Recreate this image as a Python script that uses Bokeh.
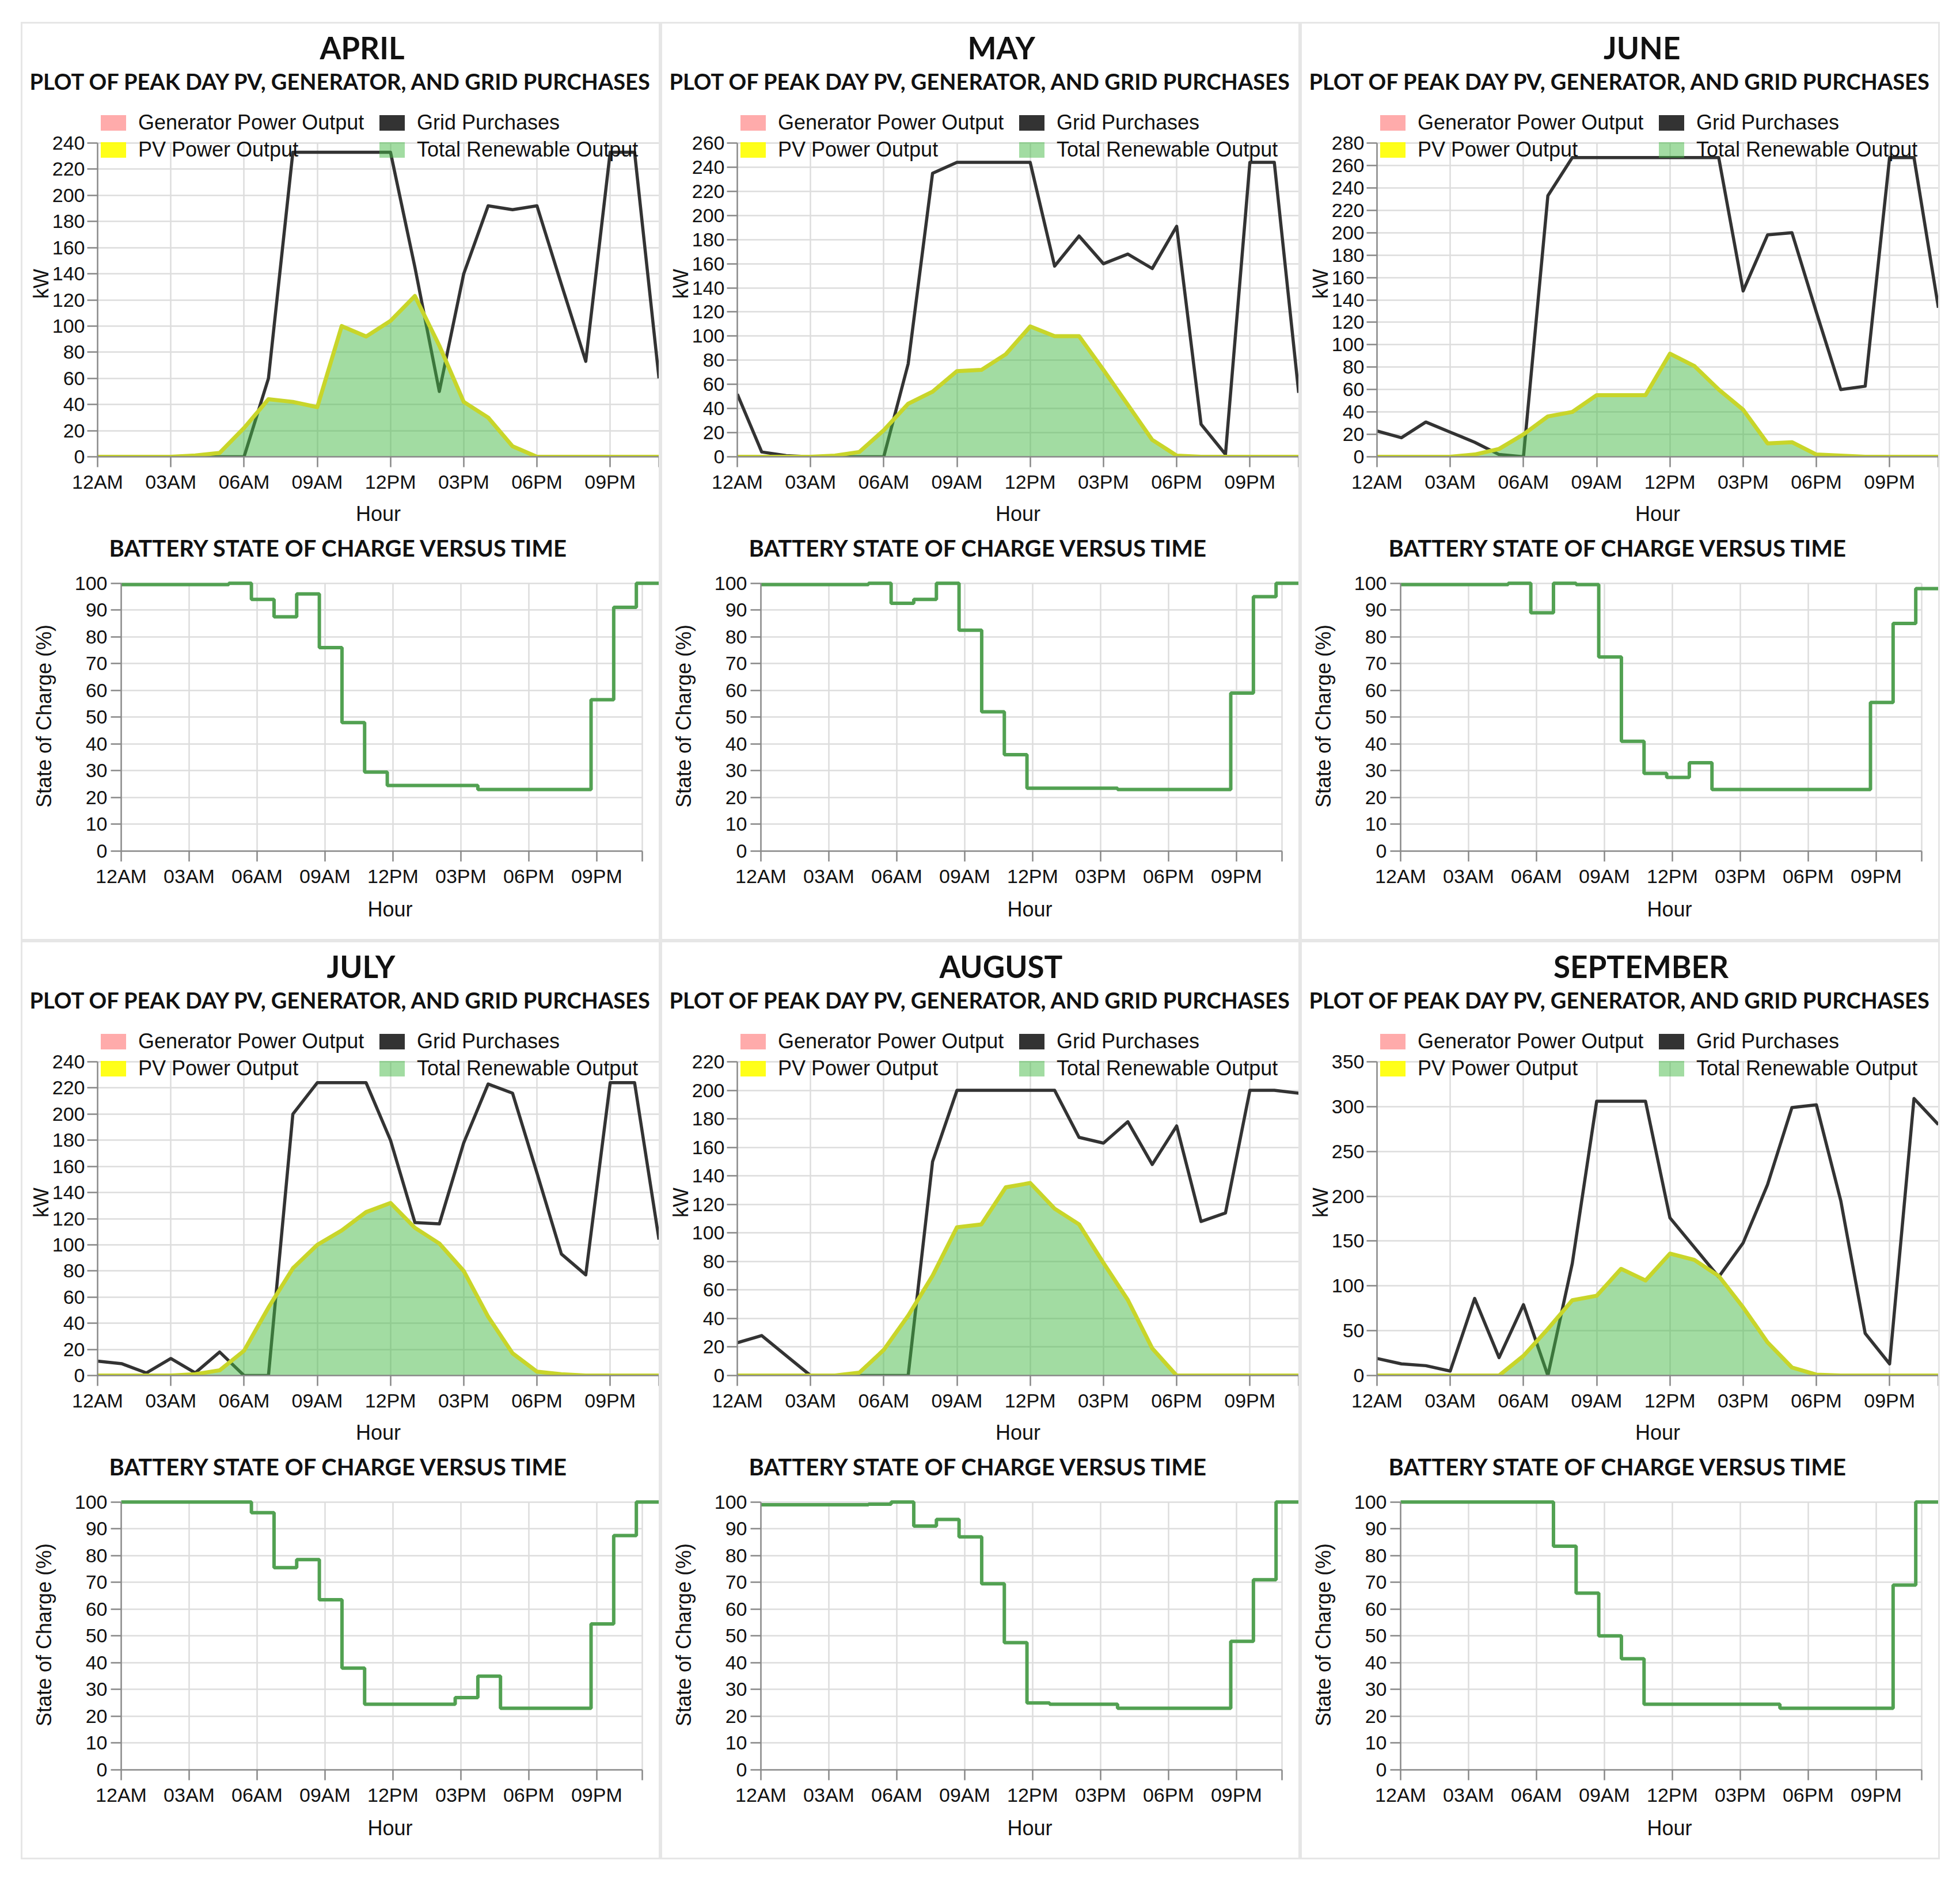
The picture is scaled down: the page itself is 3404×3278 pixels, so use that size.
from bokeh.plotting import figure
from bokeh.layouts import column, row
from bokeh.models import Legend, LegendItem, FixedTicker, Title, Range1d, ColumnDataSource
from bokeh.embed import file_html
from bokeh.resources import INLINE

# ---------------- data ----------------
HOURS = [0, 1, 2, 3, 4, 5, 6, 7, 8, 9, 10, 11, 12, 13, 14, 15, 16, 17, 18, 19, 20, 21, 22, 23]
TICK_HOURS = [0, 3, 6, 9, 12, 15, 18, 21, 23]
TICK_LABELS = ["12AM", "03AM", "06AM", "09AM", "12PM", "03PM", "06PM", "09PM", ""]

MONTHS = ["APRIL", "MAY", "JUNE", "JULY", "AUGUST", "SEPTEMBER"]
TOP_TITLE = "PLOT OF PEAK DAY PV, GENERATOR, AND GRID PURCHASES"
BOTTOM_TITLE = "BATTERY STATE OF CHARGE VERSUS TIME"
SERIES_NAMES = ["Generator Power Output", "Grid Purchases", "PV Power Output", "Total Renewable Output"]

KW_MAX = [240, 260, 280, 240, 220, 350]
KW_STEP = [20, 20, 20, 20, 20, 50]

grid_april = [0, 0, 0, 0, 0, 0, 0, 60, 233, 233, 233, 233, 233, 145, 50, 140, 192, 189, 192, 132, 73, 233, 233, 60]
grid_may = [52, 4, 1, 0, 0, 0, 0, 77, 235, 244, 244, 244, 244, 158, 183, 160, 168, 156, 191, 27, 2, 244, 244, 53]
grid_june = [23, 17, 31, 22, 13, 2, 0, 233, 267, 267, 267, 267, 267, 267, 267, 148, 198, 200, 129, 60, 63, 267, 267, 133]
grid_july = [11, 9, 2, 13, 2, 18, 0, 0, 200, 224, 224, 224, 180, 117, 116, 178, 223, 216, 155, 93, 77, 224, 224, 104]
grid_august = [23, 28, 14, 0, 0, 0, 0, 0, 150, 200, 200, 200, 200, 200, 167, 163, 178, 148, 175, 108, 114, 200, 200, 198]
grid_september = [19, 13, 11, 5, 86, 20, 79, 0, 125, 306, 306, 306, 176, 143, 110, 148, 213, 299, 302, 195, 47, 13, 309, 280]

pv_april = [0, 0, 0, 0, 1, 3, 22, 44, 42, 38, 100, 92, 104, 123, 85, 42, 30, 8, 0, 0, 0, 0, 0, 0]
pv_may = [0, 0, 0, 0, 1, 4, 22, 44, 54, 71, 72, 85, 108, 100, 100, 72, 43, 14, 1, 0, 0, 0, 0, 0]
pv_june = [0, 0, 0, 0, 2, 7, 20, 36, 40, 55, 55, 55, 92, 81, 60, 42, 12, 13, 2, 1, 0, 0, 0, 0]
pv_july = [0, 0, 0, 0, 1, 4, 19, 52, 82, 100, 111, 125, 132, 113, 101, 80, 45, 17, 3, 1, 0, 0, 0, 0]
pv_august = [0, 0, 0, 0, 0, 2, 18, 42, 70, 104, 106, 132, 135, 117, 106, 79, 53, 19, 0, 0, 0, 0, 0, 0]
pv_september = [0, 0, 0, 0, 0, 0, 22, 52, 84, 89, 119, 106, 136, 129, 111, 76, 37, 9, 1, 0, 0, 0, 0, 0]

gen_april = [0, 0, 0, 0, 0, 0, 0, 0, 0, 0, 0, 0, 0, 0, 0, 0, 0, 0, 0, 0, 0, 0, 0, 0]
gen_may = [0, 0, 0, 0, 0, 0, 0, 0, 0, 0, 0, 0, 0, 0, 0, 0, 0, 0, 0, 0, 0, 0, 0, 0]
gen_june = [0, 0, 0, 0, 0, 0, 0, 0, 0, 0, 0, 0, 0, 0, 0, 0, 0, 0, 0, 0, 0, 0, 0, 0]
gen_july = [0, 0, 0, 0, 0, 0, 0, 0, 0, 0, 0, 0, 0, 0, 0, 0, 0, 0, 0, 0, 0, 0, 0, 0]
gen_august = [0, 0, 0, 0, 0, 0, 0, 0, 0, 0, 0, 0, 0, 0, 0, 0, 0, 0, 0, 0, 0, 0, 0, 0]
gen_september = [0, 0, 0, 0, 0, 0, 0, 0, 0, 0, 0, 0, 0, 0, 0, 0, 0, 0, 0, 0, 0, 0, 0, 0]

soc_april = [99.5, 99.5, 99.5, 99.5, 99.5, 100, 94, 87.5, 96, 76, 48, 29.5, 24.5, 24.5, 24.5, 24.5, 23, 23, 23, 23, 23, 56.5, 91, 100]
soc_may = [99.5, 99.5, 99.5, 99.5, 99.5, 100, 92.5, 94, 100, 82.5, 52, 36, 23.5, 23.5, 23.5, 23.5, 23, 23, 23, 23, 23, 59, 95, 100]
soc_june = [99.5, 99.5, 99.5, 99.5, 99.5, 100, 89, 100, 99.5, 72.5, 41, 29, 27.5, 33, 23, 23, 23, 23, 23, 23, 23, 55.5, 85, 98]
soc_july = [100, 100, 100, 100, 100, 100, 96, 75.5, 78.5, 63.5, 38, 24.5, 24.5, 24.5, 24.5, 27, 35, 23, 23, 23, 23, 54.5, 87.5, 100]
soc_august = [99, 99, 99, 99, 99, 99.2, 100, 91, 93.5, 87, 69.5, 47.5, 25, 24.5, 24.5, 24.5, 23, 23, 23, 23, 23, 48, 71, 100]
soc_september = [100, 100, 100, 100, 100, 100, 100, 83.5, 66, 50, 41.5, 24.5, 24.5, 24.5, 24.5, 24.5, 24.5, 23, 23, 23, 23, 23, 69, 100]

GRID = [grid_april, grid_may, grid_june, grid_july, grid_august, grid_september]
PV = [pv_april, pv_may, pv_june, pv_july, pv_august, pv_september]
GEN = [gen_april, gen_may, gen_june, gen_july, gen_august, gen_september]
SOC = [soc_april, soc_may, soc_june, soc_july, soc_august, soc_september]

# ---------------- styling ----------------
FONT_T = "Lato"
FONT_L = "Liberation Sans"
PANEL_W = 1105
TOP_H = 880
BOT_H = 710
TOP_LEFT = 130
TOP_TOP = 151          # frame top (legend lives inside the top band of the frame)
TOP_BOTTOM = 128
DATA_TOP = 207         # where the y maximum sits
BOT_LEFT = 171
BOT_TOP = 88
BOT_BOTTOM = 153

# approximate rendered widths (px) of the bold titles, used to place them
MONTH_TITLE_W = [144, 116, 129, 120, 214, 303]
TOP_TITLE_W = 1081
BOTTOM_TITLE_W = 796

C_GEN = "#ff0000"
C_GRID = "#333333"
C_PV_LINE = "#c8d52a"
C_PV_KEY = "#ffff00"
C_TOTAL = "#45b945"
C_SOC = "#52a152"

HAS_STANDOFF = "standoff" in Title.properties()


def style_axes(p):
    for ax in (p.xaxis[0], p.yaxis[0]):
        ax.axis_line_color = "#888888"
        ax.axis_line_width = 2.5
        ax.major_tick_line_color = "#888888"
        ax.major_tick_line_width = 2.5
        ax.major_tick_in = 0
        ax.major_tick_out = 18
        ax.minor_tick_line_color = None
        ax.major_label_text_font = FONT_L
        ax.major_label_text_font_size = "34px"
        ax.major_label_text_color = "#111111"
        ax.major_label_standoff = 6
        ax.axis_label_text_font = FONT_L
        ax.axis_label_text_font_size = "36px"
        ax.axis_label_text_font_style = "normal"
        ax.axis_label_text_color = "#111111"
    p.xaxis.ticker = FixedTicker(ticks=TICK_HOURS)
    p.xaxis.major_label_overrides = {h: lab for h, lab in zip(TICK_HOURS, TICK_LABELS)}
    for g in (p.xgrid[0], p.ygrid[0]):
        g.grid_line_color = "#dddddd"
        g.grid_line_width = 2.5
    p.outline_line_color = None
    p.background_fill_color = "white"
    p.border_fill_color = "white"


def set_cross(grid, b):
    if "cross_bounds" in grid.properties():
        grid.cross_bounds = b


def style_title(t, size, left_px, frame_left, standoff, line_height=None):
    t.text_font = FONT_T
    t.text_font_size = size
    t.text_font_style = "bold"
    t.text_color = "#111111"
    t.align = "left"
    t.offset = left_px - frame_left
    if HAS_STANDOFF:
        t.standoff = standoff
    if line_height is not None:
        t.text_line_height = line_height


def gap_title(size):
    # a blank title used only as vertical spacing between a title and the frame
    t = Title(text=" ", text_font_size=size)
    if HAS_STANDOFF:
        t.standoff = 0
    return t


def style_legend(leg):
    leg.background_fill_alpha = 0
    leg.border_line_alpha = 0
    leg.padding = 0
    leg.margin = 0
    leg.spacing = 5
    leg.glyph_width = 55
    leg.glyph_height = 34
    leg.label_standoff = 16
    leg.label_text_font = FONT_L
    leg.label_text_font_size = "36px"
    leg.label_text_color = "#111111"
    leg.label_text_baseline = "middle"


def top_chart(i):
    grid, pv, gen = GRID[i], PV[i], GEN[i]
    total = [a + b for a, b in zip(pv, gen)]
    ymax = KW_MAX[i]
    frame_h = TOP_H - TOP_TOP - TOP_BOTTOM
    data_h = TOP_H - DATA_TOP - TOP_BOTTOM
    y_end = ymax * frame_h / data_h
    p = figure(width=PANEL_W, height=TOP_H, x_range=Range1d(0, 23),
               y_range=Range1d(0, y_end), title=MONTHS[i],
               output_backend="svg", toolbar_location=None,
               min_border_left=TOP_LEFT, min_border_right=0,
               min_border_top=TOP_TOP, min_border_bottom=TOP_BOTTOM)
    style_title(p.title, "53px", 588 - MONTH_TITLE_W[i] / 2, TOP_LEFT, 0)
    style_axes(p)
    p.yaxis.bounds = (0, ymax)
    p.yaxis.ticker = FixedTicker(ticks=list(range(0, ymax + 1, KW_STEP[i])))
    p.yaxis.major_label_standoff = 4
    p.yaxis.axis_label = "kW"
    p.yaxis.axis_label_standoff = -4
    p.xaxis.axis_label = "Hour"
    p.xaxis.axis_label_standoff = 13
    set_cross(p.xgrid[0], (0, ymax))

    src = ColumnDataSource(dict(hour=HOURS, gen=gen, grid=grid, pv=pv, total=total))
    r_gen = p.varea(x="hour", y1=0, y2="gen", source=src, fill_color=C_GEN, fill_alpha=0.33)
    p.line("hour", "grid", source=src, line_color=C_GRID, line_width=5.5, line_join="round")
    r_total = p.varea(x="hour", y1=0, y2="total", source=src, fill_color=C_TOTAL, fill_alpha=0.5)
    p.line("hour", "pv", source=src, line_color=C_PV_LINE, line_width=7, line_join="round")
    # zero-height colour keys for the legend (generator output is zero all day)
    key_grid = p.varea(x="hour", y1="gen", y2="gen", source=src, fill_color=C_GRID)
    key_pv = p.varea(x="hour", y1="gen", y2="gen", source=src, fill_color=C_PV_KEY, fill_alpha=0.9)

    leg_a = Legend(items=[LegendItem(label=SERIES_NAMES[0], renderers=[r_gen]),
                          LegendItem(label=SERIES_NAMES[2], renderers=[key_pv])],
                   location="top_left")
    leg_b = Legend(items=[LegendItem(label=SERIES_NAMES[1], renderers=[key_grid]),
                          LegendItem(label=SERIES_NAMES[3], renderers=[r_total])],
                   location="top_right")
    for leg in (leg_a, leg_b):
        style_legend(leg)
        p.add_layout(leg, "center")
    leg_b.label_width = 420

    p.add_layout(gap_title("22px"), "above")
    sub = Title(text=TOP_TITLE)
    style_title(sub, "38px", (PANEL_W - TOP_TITLE_W) / 2, TOP_LEFT, 4, 1.0)
    p.add_layout(sub, "above")
    return p


def bottom_chart(i):
    soc = SOC[i]
    b = figure(width=PANEL_W, height=BOT_H, x_range=Range1d(0, 23.75),
               y_range=Range1d(0, 100.8), title=BOTTOM_TITLE,
               output_backend="svg", toolbar_location=None,
               min_border_left=BOT_LEFT, min_border_right=0,
               min_border_top=BOT_TOP, min_border_bottom=BOT_BOTTOM)
    style_title(b.title, "40px", 548 - BOTTOM_TITLE_W / 2, BOT_LEFT, 0, 0.7)
    b.add_layout(gap_title("29px"), "above")
    style_axes(b)
    b.xaxis.bounds = (0, 23)
    b.yaxis.bounds = (0, 100)
    b.yaxis.ticker = FixedTicker(ticks=list(range(0, 101, 10)))
    b.yaxis.axis_label = "State of Charge (%)"
    b.yaxis.axis_label_standoff = 30
    b.xaxis.axis_label = "Hour"
    b.xaxis.axis_label_standoff = 15
    set_cross(b.ygrid[0], (0, 23))
    set_cross(b.xgrid[0], (0, 100))
    step_x = [h - 0.25 for h in HOURS] + [HOURS[-1] + 0.75]
    step_y = soc + [soc[-1]]
    b.step(step_x, step_y, mode="after", line_color=C_SOC, line_width=6)
    return b


panels = []
for i in range(6):
    panels.append(column(column(top_chart(i)), column(bottom_chart(i)),
                         styles={"border": "3px solid #e6e6e6"}))

root = column(row(panels[0], panels[1], panels[2]),
              row(panels[3], panels[4], panels[5]),
              margin=(38, 0, 0, 36))

with open("out.html", "w") as f:
    f.write(file_html(root, INLINE, title="Peak day PV, generator and grid purchases"))
